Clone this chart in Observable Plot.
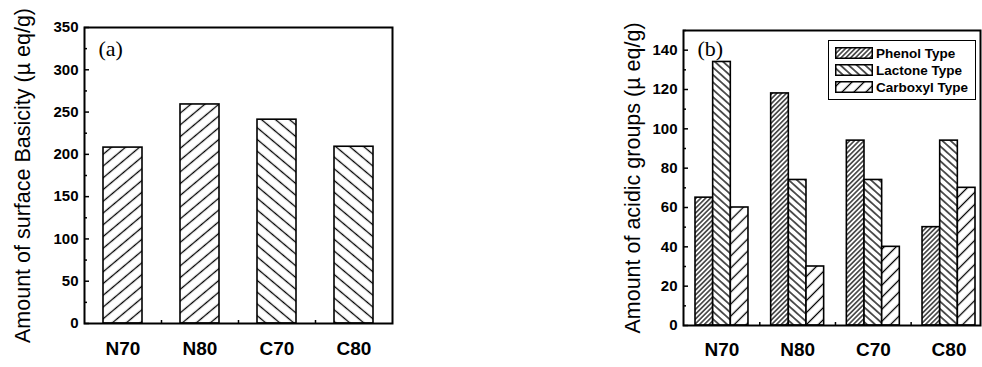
<!DOCTYPE html>
<html>
<head>
<meta charset="utf-8">
<script src="https://cdn.jsdelivr.net/npm/d3@7"></script>
<script src="https://cdn.jsdelivr.net/npm/@observablehq/plot@0.6"></script>
<style>
  html, body { margin: 0; padding: 0; background: #fff; }
  #wrap { position: relative; width: 982px; height: 367px; overflow: hidden; background: #fff; }
  #panelA { position: absolute; left: 0; top: 0; }
  #panelB { position: absolute; left: 560px; top: 0; }
  #legend { position: absolute; left: 828px; top: 40px; width: 146px; height: 58px; border: 1.5px solid #000; background: #fff;
            font-family: "Liberation Sans", Arial, sans-serif; font-weight: bold; font-size: 13.5px; color: #000; }
  #legend .row { position: absolute; left: 6px; height: 12px; display: flex; align-items: center; }
  #legend svg { display: block; margin-right: 3px; }
</style>
</head>
<body>
<svg width="0" height="0" style="position:absolute">
  <defs>
    <pattern id="hatchA" patternUnits="userSpaceOnUse" width="9" height="9" patternTransform="rotate(-40)">
      <rect width="9" height="9" fill="#fff"/>
      <line x1="0" y1="4.5" x2="9" y2="4.5" stroke="#000" stroke-width="1.3"/>
    </pattern>
    <pattern id="hatchB" patternUnits="userSpaceOnUse" width="9" height="9" patternTransform="rotate(40)">
      <rect width="9" height="9" fill="#fff"/>
      <line x1="0" y1="4.5" x2="9" y2="4.5" stroke="#000" stroke-width="1.3"/>
    </pattern>
    <pattern id="hatchPhenol" patternUnits="userSpaceOnUse" width="3.4" height="3.4" patternTransform="rotate(-45)">
      <rect width="3.4" height="3.4" fill="#fff"/>
      <line x1="0" y1="1.7" x2="3.4" y2="1.7" stroke="#000" stroke-width="1.2"/>
    </pattern>
    <pattern id="hatchLactone" patternUnits="userSpaceOnUse" width="5.5" height="5.5" patternTransform="rotate(42)">
      <rect width="5.5" height="5.5" fill="#fff"/>
      <line x1="0" y1="2.75" x2="5.5" y2="2.75" stroke="#000" stroke-width="1.3"/>
    </pattern>
    <pattern id="hatchCarboxyl" patternUnits="userSpaceOnUse" width="8.5" height="8.5" patternTransform="rotate(-45)">
      <rect width="8.5" height="8.5" fill="#fff"/>
      <line x1="0" y1="4.25" x2="8.5" y2="4.25" stroke="#000" stroke-width="1.3"/>
    </pattern>
  </defs>
</svg>
<div id="wrap">
  <div id="panelA"></div>
  <div id="panelB"></div>
  <div id="legend"></div>
</div>
<script>
// ---------- data ----------
const categories = ["N70", "N80", "C70", "C80"];
const basicity = [208, 259, 241, 209];
const phenol = [65, 118, 94, 50];
const lactone = [134, 74, 74, 94];
const carboxyl = [60, 30, 40, 70];
const seriesNames = ["Phenol Type", "Lactone Type", "Carboxyl Type"];
const basicityTicks = [0, 50, 100, 150, 200, 250, 300, 350];
const basicityMinor = [25, 75, 125, 175, 225, 275, 325];
const acidTicks = [0, 20, 40, 60, 80, 100, 120, 140];
const acidMinor = [10, 30, 50, 70, 90, 110, 130, 150];
const labelA = "Amount of surface Basicity (µ eq/g)";
const labelB = "Amount of acidic groups (µ eq/g)";

const basicityPatterns = ["url(#hatchA)", "url(#hatchA)", "url(#hatchB)", "url(#hatchB)"];
const seriesPatterns = ["url(#hatchPhenol)", "url(#hatchLactone)", "url(#hatchCarboxyl)"];

const font = "Liberation Sans, Arial, sans-serif";

// ---------- panel (a) ----------
const tableA = categories.map((c, i) => ({cat: c, value: basicity[i], pat: basicityPatterns[i]}));
const A = {width: 480, height: 367, mL: 84, mR: 88, mT: 27, mB: 44};
const fwA = A.width - A.mL - A.mR;
const fhA = A.height - A.mT - A.mB;

const plotA = Plot.plot({
  width: A.width, height: A.height,
  marginLeft: A.mL, marginRight: A.mR, marginTop: A.mT, marginBottom: A.mB,
  style: {fontFamily: font, color: "#000", background: "transparent", overflow: "visible"},
  x: {domain: categories, paddingInner: 0.5, paddingOuter: 0.25, label: null},
  y: {domain: [0, 350], label: null},
  marks: [
    Plot.barY(tableA.filter(d => d.pat === "url(#hatchA)"), {x: "cat", y: "value", fill: "url(#hatchA)", stroke: "#000", strokeWidth: 1.6}),
    Plot.barY(tableA.filter(d => d.pat === "url(#hatchB)"), {x: "cat", y: "value", fill: "url(#hatchB)", stroke: "#000", strokeWidth: 1.6}),
    Plot.ruleY(basicityTicks, {y: d => d, insetRight: fwA - 5, stroke: "#000", strokeWidth: 1.5}),
    Plot.ruleY(basicityMinor, {y: d => d, insetRight: fwA - 3, stroke: "#000", strokeWidth: 1.5}),
    Plot.ruleX(categories.slice(0, 3), {x: d => d, dx: 38.5, insetTop: fhA - 3, stroke: "#000", strokeWidth: 1.5}),
    Plot.frame({stroke: "#000", strokeWidth: 2}),
    Plot.axisY(basicityTicks, {tickSize: 0, tickPadding: 6, fontSize: 15, fontWeight: "bold", label: null}),
    Plot.axisY([], {label: labelA, labelArrow: "none", labelAnchor: "center", labelOffset: 70, fontSize: 21.5, fontWeight: "normal", tickSize: 0}),
    Plot.axisX({tickSize: 0, tickPadding: 18, fontSize: 19, fontWeight: "bold", label: null}),
    Plot.text(["(a)"], {frameAnchor: "top-left", dx: 14, dy: 13, fontFamily: "Liberation Serif, serif", fontSize: 22, textAnchor: "start"})
  ]
});
document.getElementById("panelA").appendChild(plotA);

// ---------- panel (b) ----------
const seriesValues = [phenol, lactone, carboxyl];
const tableB = [];
seriesNames.forEach((s, j) => categories.forEach((c, i) => tableB.push({cat: c, series: s, value: seriesValues[j][i]})));
const B = {width: 422, height: 367, mL: 123, mR: 2, mT: 30, mB: 42};
const fwB = B.width - B.mL - B.mR;
const fhB = B.height - B.mT - B.mB;
const bandB = 53;
const sub = bandB / 3;

const plotB = Plot.plot({
  width: B.width, height: B.height,
  marginLeft: B.mL, marginRight: B.mR, marginTop: B.mT, marginBottom: B.mB,
  style: {fontFamily: font, color: "#000", background: "transparent", overflow: "visible"},
  x: {domain: categories, range: [135, 415], paddingInner: 0.3, paddingOuter: 0, round: false, label: null},
  y: {domain: [0, 150], label: null},
  marks: [
    ...seriesNames.map((s, j) =>
      Plot.barY(tableB.filter(d => d.series === s), {
        x: "cat", y: "value", fill: seriesPatterns[j], stroke: "#000", strokeWidth: 1.6,
        insetLeft: j * sub, insetRight: (2 - j) * sub
      })
    ),
    Plot.ruleY(acidTicks, {y: d => d, insetRight: fwB - 5, stroke: "#000", strokeWidth: 1.5}),
    Plot.ruleY(acidMinor, {y: d => d, insetRight: fwB - 3, stroke: "#000", strokeWidth: 1.5}),
    Plot.ruleX(categories.slice(0, 3), {x: d => d, dx: 37.8, insetTop: fhB - 3, stroke: "#000", strokeWidth: 1.5}),
    Plot.frame({stroke: "#000", strokeWidth: 2}),
    Plot.axisY(acidTicks, {tickSize: 0, tickPadding: 6, fontSize: 15, fontWeight: "bold", label: null}),
    Plot.axisY([], {label: labelB, labelArrow: "none", labelAnchor: "center", labelOffset: 59, fontSize: 21.5, fontWeight: "normal", tickSize: 0}),
    Plot.axisX({tickSize: 0, tickPadding: 17, fontSize: 19, fontWeight: "bold", label: null}),
    Plot.text(["(b)"], {frameAnchor: "top-left", dx: 14, dy: 10, fontFamily: "Liberation Serif, serif", fontSize: 22, textAnchor: "start"})
  ]
});
document.getElementById("panelB").appendChild(plotB);

// ---------- legend ----------
const legend = document.getElementById("legend");
seriesNames.forEach((s, j) => {
  const row = document.createElement("div");
  row.className = "row";
  row.style.top = (6 + j * 17) + "px";
  row.innerHTML = `<svg width="38" height="12"><rect x="0.75" y="0.75" width="36.5" height="10.5" fill="${seriesPatterns[j]}" stroke="#000" stroke-width="1.5"/></svg><span>${s}</span>`;
  legend.appendChild(row);
});
</script>
</body>
</html>
